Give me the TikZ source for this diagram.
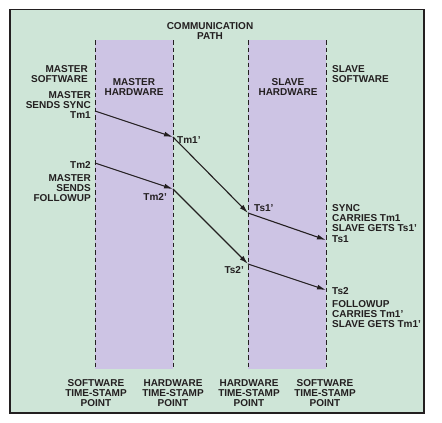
\documentclass[tikz,border=0pt]{standalone}
\usepackage{fontspec}
\setmainfont{Liberation Sans}
\usetikzlibrary{arrows.meta}
\definecolor{pathgreen}{RGB}{206,229,215}
\definecolor{hwpurple}{RGB}{205,196,228}
\definecolor{inkgray}{RGB}{35,31,32}
\newcommand{\hwband}[2]{\fill[hwpurple] (#1,40) rectangle (#2,369);}
\newcommand{\stampline}[1]{\draw[stamp] (#1,40) -- (#1,367);}
\tikzset{
  lbl/.style={inner sep=0pt, text=inkgray, font=\bfseries\fontsize{10}{10}\selectfont},
  stamp/.style={draw=inkgray, line width=0.9pt, dash pattern=on 4.5pt off 3pt},
  msg/.style={draw=inkgray, line width=1.1pt, -{Latex[length=9pt,width=5pt]}}
}

\begin{document}
\begin{tikzpicture}[x=1pt,y=-1pt]
        \useasboundingbox (0,0) rectangle (442,423);
        \filldraw[fill=pathgreen, draw=inkgray, line width=1.2pt] (10,9.5) rectangle (424,413);
        \hwband{95}{173}
        \hwband{248}{326}
        \stampline{95}
        \stampline{173}
        \stampline{248}
        \stampline{326}
        \coordinate (tm1) at (95,111);
        \coordinate (tm1p) at (173,137);
        \coordinate (ts1p) at (248,213);
        \coordinate (ts1) at (326,240);
        \coordinate (tm2) at (95,163);
        \coordinate (tm2p) at (173,189);
        \coordinate (ts2p) at (248,264);
        \coordinate (ts2) at (326,290);
        \draw[msg] (tm1) -- (tm1p);
        \draw[msg] (tm1p) -- (ts1p);
        \draw[msg] (ts1p) -- (ts1);
        \draw[msg] (tm2) -- (tm2p);
        \draw[msg] (tm2p) -- (ts2p);
        \draw[msg] (ts2p) -- (ts2);
        \node[lbl, anchor=north, align=center] (comm) at (210,22) {COMMUNICATION\\PATH};
        \node[lbl, anchor=north east, align=right] (msw) at (88,65) {MASTER\\SOFTWARE};
        \node[lbl, anchor=north, align=center] (mhw) at (134,78) {MASTER\\HARDWARE};
        \node[lbl, anchor=north, align=center] (shw) at (288,78) {SLAVE\\HARDWARE};
        \node[lbl, anchor=north west, align=left] (ssw) at (332,65) {SLAVE\\SOFTWARE};
        \node[lbl, anchor=north east, align=right] (msync) at (91,91) {MASTER\\SENDS SYNC\\Tm1};
        \node[lbl, anchor=west] (tm1plbl) at (177,140) {Tm1'};
        \node[lbl, anchor=east] (tm2lbl) at (91,165.5) {Tm2};
        \node[lbl, anchor=north east, align=right] (mfollow) at (91,174) {MASTER\\SENDS\\FOLLOWUP};
        \node[lbl, anchor=east] (tm2plbl) at (167,197) {Tm2'};
        \node[lbl, anchor=west] (ts1plbl) at (254,208.5) {Ts1'};
        \node[lbl, anchor=north west, align=left] (ssync) at (332,204) {SYNC\\CARRIES Tm1\\SLAVE GETS Ts1'};
        \node[lbl, anchor=west] (ts1lbl) at (332,239.5) {Ts1};
        \node[lbl, anchor=east] (ts2plbl) at (244,270) {Ts2'};
        \node[lbl, anchor=west] (ts2lbl) at (332,291) {Ts2};
        \node[lbl, anchor=north west, align=left] (sfollow) at (332,300) {FOLLOWUP\\CARRIES Tm1'\\SLAVE GETS Tm1'};
        \node[lbl, anchor=north, align=center] (mswpt) at (96,379) {SOFTWARE\\TIME-STAMP\\POINT};
        \node[lbl, anchor=north, align=center] (mhwpt) at (173,379) {HARDWARE\\TIME-STAMP\\POINT};
        \node[lbl, anchor=north, align=center] (shwpt) at (249,379) {HARDWARE\\TIME-STAMP\\POINT};
        \node[lbl, anchor=north, align=center] (sswpt) at (325,379) {SOFTWARE\\TIME-STAMP\\POINT};
    \end{tikzpicture}
\end{document}
